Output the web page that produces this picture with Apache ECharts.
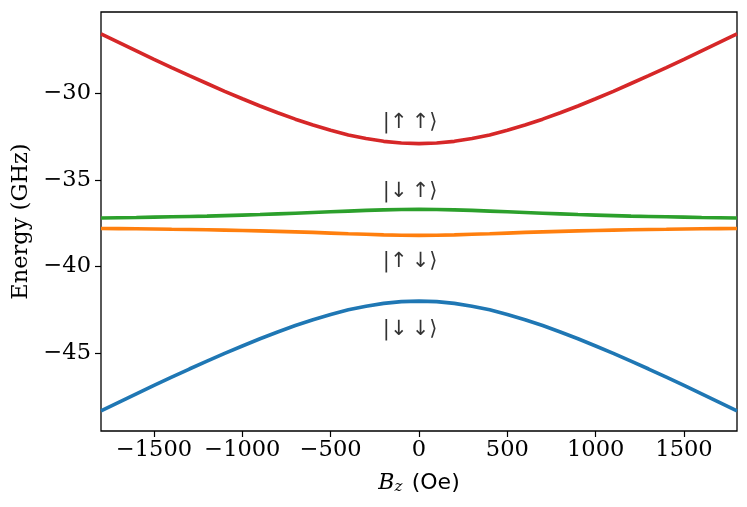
<!DOCTYPE html>
<html>
<head>
    <meta charset="utf-8">
    <title>Energy levels vs Bz</title>
    <script src="https://cdn.jsdelivr.net/npm/echarts@6/dist/echarts.min.js"></script>
</head>
<body style="margin:0;background:#fff;">
<div id="container" style="width:747px;height:507px;"></div>
<script type="text/javascript">
    // field values (Oe)
    var fieldBz = [-1800, -1700, -1600, -1500, -1400, -1300, -1200, -1100, -1000, -900, -800, -700, -600, -500, -400, -300, -200, -100,
        0, 100, 200, 300, 400, 500, 600, 700, 800, 900, 1000, 1100, 1200, 1300, 1400, 1500, 1600, 1700, 1800];
    // energies (GHz)
    var energyUpUp = [-26.56, -27.05, -27.54, -28.03, -28.51, -28.98, -29.43, -29.88, -30.31, -30.73, -31.12, -31.49, -31.83, -32.13, -32.40, -32.61, -32.77, -32.87,
        -32.90, -32.87, -32.77, -32.61, -32.40, -32.13, -31.83, -31.49, -31.12, -30.73, -30.31, -29.88, -29.43, -28.98, -28.51, -28.03, -27.54, -27.05, -26.56];
    var energyDownUp = [-37.20, -37.18, -37.17, -37.15, -37.13, -37.11, -37.09, -37.06, -37.03, -37.00, -36.96, -36.92, -36.88, -36.84, -36.80, -36.76, -36.73, -36.71,
        -36.70, -36.71, -36.73, -36.76, -36.80, -36.84, -36.88, -36.92, -36.96, -37.00, -37.03, -37.06, -37.09, -37.11, -37.13, -37.15, -37.17, -37.18, -37.20];
    var energyUpDown = [-37.80, -37.81, -37.82, -37.83, -37.85, -37.86, -37.88, -37.90, -37.92, -37.94, -37.97, -38.00, -38.03, -38.07, -38.11, -38.14, -38.17, -38.19,
        -38.20, -38.19, -38.17, -38.14, -38.11, -38.07, -38.03, -38.00, -37.97, -37.94, -37.92, -37.90, -37.88, -37.86, -37.85, -37.83, -37.82, -37.81, -37.80];
    var energyDownDown = [-48.34, -47.85, -47.36, -46.87, -46.39, -45.92, -45.47, -45.02, -44.59, -44.17, -43.78, -43.41, -43.07, -42.77, -42.50, -42.29, -42.13, -42.03,
        -42.00, -42.03, -42.13, -42.29, -42.50, -42.77, -43.07, -43.41, -43.78, -44.17, -44.59, -45.02, -45.47, -45.92, -46.39, -46.87, -47.36, -47.85, -48.34];

    var stateLabels = ['|\u2191\u2009\u2191\u27E9', '|\u2193\u2009\u2191\u27E9', '|\u2191\u2009\u2193\u27E9', '|\u2193\u2009\u2193\u27E9'];
    var stateLabelX = [-50, -50, -50, -50];
    var stateLabelY = [-31.66, -35.68, -39.71, -43.66];

    var xTicks = [-1500, -1000, -500, 0, 500, 1000, 1500];
    var yTicks = [-45, -40, -35, -30];

    function pairs(xs, ys) {
        var out = [];
        for (var i = 0; i < xs.length; i++) {
            out.push([xs[i], ys[i]]);
        }
        return out;
    }
    function minus(v) {
        return String(v).replace('-', '\u2212');
    }

    var labelData = [];
    for (var i = 0; i < stateLabels.length; i++) {
        labelData.push({name: stateLabels[i], value: [stateLabelX[i], stateLabelY[i]]});
    }

    var lineStyle = function (c) {
        return {
            type: 'line', showSymbol: false, smooth: false, silent: true,
            lineStyle: {color: c, width: 3.6}, itemStyle: {color: c}, z: 2
        };
    };

    var s1 = lineStyle('#1f77b4'); s1.data = pairs(fieldBz, energyDownDown);
    var s2 = lineStyle('#ff7f0e'); s2.data = pairs(fieldBz, energyUpDown);
    var s3 = lineStyle('#2ca02c'); s3.data = pairs(fieldBz, energyDownUp);
    var s4 = lineStyle('#d62728'); s4.data = pairs(fieldBz, energyUpUp);

    var dom = document.getElementById("container");
    var myChart = echarts.init(dom);
    var option = {
        animation: false,
        backgroundColor: '#ffffff',
        grid: {
            left: 101, right: 10, top: 12, bottom: 76,
            show: true, borderColor: '#000', borderWidth: 1.3,
            containLabel: false, outerBoundsMode: 'none'
        },
        xAxis: {
            type: 'value', min: -1800, max: 1800,
            splitLine: {show: false},
            axisLine: {show: false, onZero: false},
            axisTick: {show: true, inside: false, length: 6, lineStyle: {color: '#000', width: 1.2}, customValues: xTicks},
            axisLabel: {
                customValues: xTicks, margin: 8, color: '#000',
                fontFamily: 'DejaVu Serif', fontSize: 22.5, formatter: minus
            },
            name: '{b|B}{z|z} {t|(Oe)}', nameLocation: 'middle', nameGap: 40,
            nameTextStyle: {
                rich: {
                    b: {fontFamily: 'DejaVu Serif', fontStyle: 'italic', fontSize: 22, color: '#000'},
                    z: {fontFamily: 'DejaVu Serif', fontStyle: 'italic', fontSize: 15, color: '#000', verticalAlign: 'bottom', padding: [9, 0, 0, 0]},
                    t: {fontFamily: 'DejaVu Sans', fontSize: 22, color: '#000', padding: [0, 0, 0, 6]}
                }
            }
        },
        yAxis: {
            type: 'value', min: -49.5, max: -25.3,
            splitLine: {show: false},
            axisLine: {show: false, onZero: false},
            axisTick: {show: true, inside: false, length: 6, lineStyle: {color: '#000', width: 1.2}, customValues: yTicks},
            axisLabel: {
                customValues: yTicks, margin: 10, color: '#000',
                fontFamily: 'DejaVu Serif', fontSize: 22.5, formatter: minus
            },
            name: 'Energy (GHz)', nameLocation: 'middle', nameGap: 67, nameRotate: 90,
            nameTextStyle: {fontFamily: 'DejaVu Serif', fontSize: 22.5, color: '#000'}
        },
        series: [s1, s2, s3, s4, {
            type: 'scatter', symbolSize: 0, silent: true, z: 3,
            data: labelData,
            label: {
                show: true, position: 'inside', formatter: '{b}',
                fontFamily: 'DejaVu Sans', fontSize: 21, color: '#000'
            }
        }]
    };
    myChart.setOption(option, true);
</script>
</body>
</html>
